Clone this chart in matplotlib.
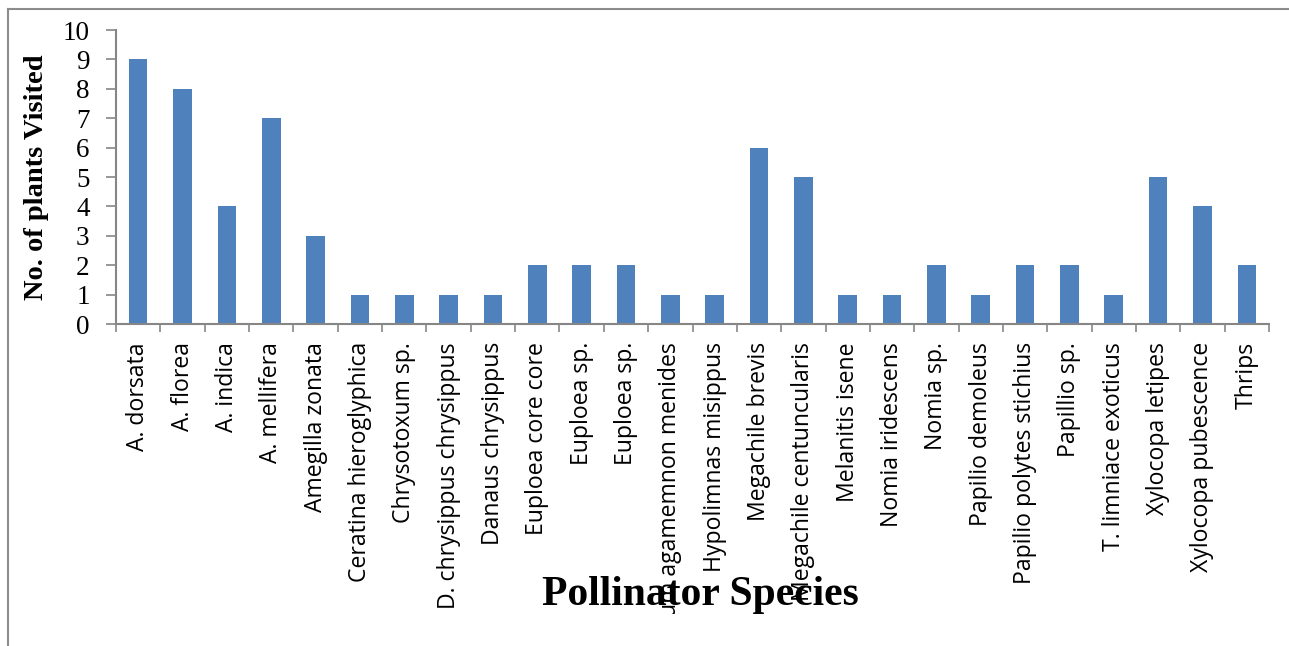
import matplotlib.pyplot as plt
from matplotlib.lines import Line2D
from matplotlib.transforms import Bbox

# pollinator species and number of plants visited
species = ["A. dorsata", "A. florea", "A. indica", "A. mellifera", "Amegilla zonata",
           "Ceratina hieroglyphica", "Chrysotoxum sp.", "D. chrysippus chrysippus",
           "Danaus chrysippus", "Euploea core core", "Euploea sp.", "Euploea sp.",
           "Graphium agamemnon menides", "Hypolimnas misippus", "Megachile brevis",
           "Megachile centuncularis", "Melanitis isene", "Nomia iridescens", "Nomia sp.",
           "Papilio demoleus", "Papilio polytes stichius", "Papillio sp.",
           "T. limniace exoticus", "Xylocopa letipes", "Xylocopa pubescence", "Thrips"]
visits = [9, 8, 4, 7, 3, 1, 1, 1, 1, 2, 2, 2, 1, 1, 6, 5, 1, 1, 2, 1, 2, 2, 1, 5, 4, 2]
yticks = list(range(0, 11))

W, H = 1289, 646
fig = plt.figure(figsize=(W / 100, H / 100), dpi=100)
ax = fig.add_axes([116 / W, 1 - 324 / H, (1269 - 116) / W, (324 - 30) / H])

x = list(range(len(species)))
ax.bar(x, visits, width=0.42, color="#4F81BD", zorder=2)

ax.set_xlim(-0.5, len(species) - 0.5)
ax.set_ylim(0, 10)
ax.set_yticks(yticks)
ax.set_yticklabels([str(t) for t in yticks], fontfamily="Liberation Serif", fontsize=19.5)
ax.tick_params(axis="y", length=7, width=1.2, color="#868686", pad=12)

# category ticks sit between the bars
ax.set_xticks([i - 0.5 for i in range(len(species) + 1)], minor=False)
ax.set_xticklabels([])
ax.tick_params(axis="x", which="major", length=6, width=1.2, color="#868686")
ax.set_xticks(x, minor=True)
ax.set_xticklabels(species, minor=True, rotation=90, fontfamily="Open Sans",
                   fontsize=16.6, va="top", ha="center")
ax.tick_params(axis="x", which="minor", length=0, pad=13)

for s in ["top", "right"]:
    ax.spines[s].set_visible(False)
for s in ["left", "bottom"]:
    ax.spines[s].set_color("#868686")
    ax.spines[s].set_linewidth(1.5)

ax.set_ylabel("No. of plants Visited", fontfamily="Liberation Serif", fontweight="bold",
              fontsize=20.5, labelpad=10)

fig.text(700 / W, 1 - 595 / H, "Pollinator Species", fontfamily="Liberation Serif",
         fontweight="bold", fontsize=30, ha="center", va="center")

# long labels are cut off near the bottom, as in the source
fig.canvas.draw()
clip = Bbox([[0, H - 614], [W, H]])
for lab in ax.get_xticklabels(minor=True):
    lab.set_clip_on(True)
    lab.set_clip_box(clip)

# outer frame, only top and left visible
fig.add_artist(Line2D([8 / W, 8 / W], [0, 1 - 9 / H], color="#8c8c8c", lw=1.5))
fig.add_artist(Line2D([8 / W, 1], [1 - 9 / H, 1 - 9 / H], color="#8c8c8c", lw=1.5))

fig.savefig("out.png", dpi=100)
